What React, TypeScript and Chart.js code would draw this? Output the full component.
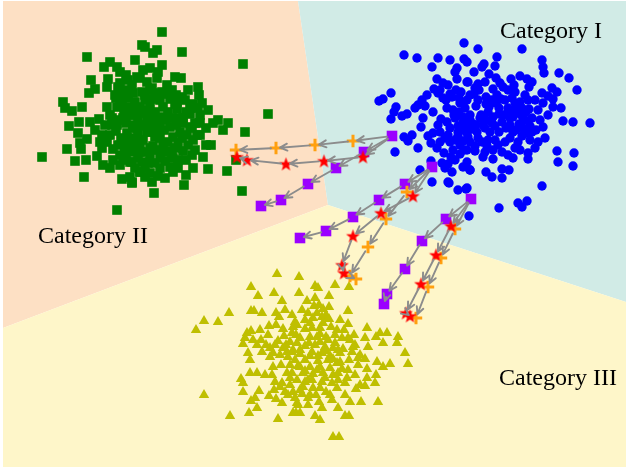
import React, { useEffect, useRef } from "react";
import { Chart, registerables } from "chart.js";
Chart.register(...registerables);

type P = [number, number];

// ---- text labels ----
const labelTexts = ["Category I", "Category II", "Category III"];
const labelX = [500, 38, 499];
const labelY = [38, 243, 385];

// ---- background regions ----
const regionPeach: P[] = [[3, 1], [298, 1], [328, 205], [3, 328]];
const regionCyan: P[] = [[298, 1], [626, 1], [626, 302], [328, 205]];
const regionYellow: P[] = [[3, 328], [328, 205], [626, 302], [626, 467], [3, 467]];
const regionColors = ["#fde0c4", "#d1ebe6", "#fef6c9"];

// ---- clusters ----
const greenPts: P[] = [
  [42,157],[87,57],[110,62],[104,67],[117,67],[120,72],[126,75],[91,80],[108,79],[107,87],[118,87],[95,89],[89,93],[142,45],[127,90],[116,98],[63,102],[65,108],[72,111],[82,107],[107,107],[117,107],[127,107],[79,122],[69,126],[90,122],[99,119],[110,115],[123,118],[78,133],[95,130],[102,135],[110,135],[87,139],[80,143],[67,149],[102,148],[113,149],[125,147],[81,149],[97,156],[75,161],[86,160],[103,165],[110,168],[123,157],[130,162],[84,177],[122,179],[130,177],[132,183],[117,210],[140,172],[140,78],[140,108],[133,128],[135,138],[127,133],[112,125],[117,125],[107,142],[130,150],[140,152],
  [162,32],[145,47],[157,50],[153,53],[182,52],[243,64],[162,65],[150,68],[143,70],[158,72],[137,77],[175,77],[181,78],[157,78],[147,82],[132,85],[152,88],[167,85],[172,90],[198,87],[199,95],[145,95],[155,93],[167,94],[182,97],[177,102],[193,104],[202,103],[208,110],[198,108],[138,107],[150,105],[163,107],[177,109],[135,115],[145,113],[155,112],[162,117],[172,118],[190,114],[200,115],[218,120],[228,123],[213,123],[195,123],[183,123],[133,125],[143,125],[153,125],[170,127],[206,128],[223,130],[192,127],[180,132],[187,135],[197,135],[245,132],[138,135],[150,132],[160,138],[173,137],[143,140],[168,142],[178,143],[133,145],[153,146],[206,145],[211,145],[183,151],[195,150],[167,151],[143,152],[150,155],[172,155],[203,157],[132,162],[142,162],[155,163],[165,161],[170,167],[193,168],[208,169],[227,171],[140,172],[150,173],[158,176],[165,178],[145,177],[173,172],[132,182],[184,185],[154,193],[242,191],[236,160],[268,114],
  [120,100],[128,98],[135,102],[145,100],[152,99],[160,100],[170,99],[124,110],[131,109],[140,112],[148,110],[158,118],[166,120],[178,118],[186,112],[118,120],[126,123],[138,120],[147,118],[157,130],[164,130],[176,125],[121,138],[127,141],[147,132],[155,137],[163,145],[175,148],[188,145],[120,155],[126,160],[138,158],[148,163],[160,158],[178,160],[186,160],[116,131],[112,118],[193,140],[200,123],
  [115,95],[123,92],[133,93],[142,92],[150,90],[162,92],[176,95],[185,100],[190,108],[122,104],[130,115],[137,128],[145,126],[152,118],[160,124],[168,112],[175,104],[183,118],[190,128],[200,135],[118,145],[125,152],[133,152],[140,145],[150,148],[158,150],[165,152],[173,158],[182,138],[192,155],[113,160],[120,165],[135,168],[145,168],[152,182],[160,168],[178,168],[186,175],[105,125],[100,142],[188,90],[128,80],[135,60],[120,83]
];

const bluePts: P[] = [
  [464,43],[404,55],[417,58],[438,58],[450,60],[464,59],[432,67],[457,68],[455,72],[457,79],[437,79],[443,83],[448,85],[467,82],[434,89],[456,90],[391,93],[383,99],[379,101],[427,95],[438,93],[443,98],[459,98],[467,100],[422,100],[418,105],[425,106],[415,108],[396,107],[394,112],[402,116],[407,114],[433,112],[447,108],[453,110],[459,112],[391,119],[423,118],[441,119],[447,122],[454,115],[463,117],[421,127],[438,125],[450,128],[458,126],[467,122],[412,135],[404,137],[408,141],[428,136],[433,133],[440,132],[445,138],[431,143],[440,142],[450,142],[458,136],[463,141],[418,148],[395,152],[453,150],[460,154],[451,157],[467,150],[442,163],[448,164],[445,168],[420,170],[431,161],[452,172],[463,167],[470,170],[432,182],[448,182],[458,190],[467,188],
  [478,49],[522,49],[467,62],[484,64],[482,67],[497,57],[495,66],[542,60],[543,67],[544,73],[559,73],[569,78],[577,90],[474,72],[489,74],[496,78],[511,79],[520,76],[527,79],[532,82],[529,87],[468,82],[478,84],[479,90],[493,89],[503,87],[514,85],[508,90],[552,88],[557,92],[542,93],[474,94],[486,97],[497,95],[501,99],[512,98],[520,102],[528,100],[543,103],[553,99],[561,108],[553,107],[529,109],[548,115],[465,108],[476,106],[489,107],[499,108],[508,108],[515,109],[522,108],[470,115],[481,115],[493,117],[503,115],[513,117],[522,116],[532,118],[563,121],[573,122],[543,127],[530,126],[463,122],[473,124],[483,125],[492,123],[502,122],[510,125],[519,124],[467,133],[477,132],[490,132],[499,132],[513,132],[527,133],[470,142],[482,142],[495,140],[505,142],[518,142],[530,140],[538,142],[535,148],[464,150],[475,151],[493,150],[502,152],[513,158],[528,153],[528,159],[557,151],[574,153],[483,157],[493,159],[467,162],[470,170],[486,172],[492,177],[502,178],[502,169],[509,170],[558,162],[573,166],[542,186],[466,189],[518,203],[522,207],[527,201],[499,208],[590,123],[469,216],[449,183],
  [470,95],[478,100],[486,104],[496,103],[505,100],[515,103],[460,103],[455,118],[470,120],[480,118],[488,112],[508,112],[518,113],[526,112],[462,130],[472,129],[485,128],[495,126],[506,128],[516,130],[523,128],[455,140],[468,137],[478,138],[488,140],[510,138],[522,136],[532,132],[460,145],[487,146],[498,145],[515,148],[446,100],[450,94],
  [440,90],[452,97],[461,92],[475,88],[485,82],[500,83],[515,92],[525,95],[535,100],[538,110],[540,120],[536,130],[545,138],[548,96],[492,100],[499,114],[486,120],[476,125],[465,125],[458,132],[448,135],[437,148],[444,153],[455,160],[475,146],[485,152],[508,155],[520,150],[525,120],[510,118]
];

const olivePts: P[] = [
  [277,274],[251,287],[258,296],[274,293],[282,301],[229,313],[204,321],[218,322],[196,330],[251,311],[254,311],[262,313],[276,313],[279,317],[269,326],[276,325],[283,329],[293,327],[247,333],[251,331],[245,338],[243,344],[253,340],[261,340],[266,345],[257,345],[278,341],[275,345],[290,342],[283,348],[248,353],[250,360],[270,357],[273,353],[287,352],[293,350],[281,365],[273,367],[290,365],[250,373],[257,373],[265,375],[272,375],[287,373],[241,379],[243,383],[275,382],[280,387],[290,385],[243,392],[259,391],[274,390],[285,392],[293,392],[204,395],[269,396],[276,399],[282,403],[251,401],[255,398],[257,408],[249,413],[230,416],[278,419],[296,413],[297,403],
  [299,277],[315,286],[318,288],[335,285],[349,287],[299,293],[307,301],[315,298],[329,296],[319,305],[329,307],[323,309],[348,311],[308,313],[317,313],[313,318],[322,317],[329,319],[295,322],[297,325],[323,323],[348,324],[367,328],[305,329],[320,328],[331,327],[337,330],[380,333],[387,333],[376,337],[398,337],[292,333],[300,338],[310,337],[317,337],[326,337],[342,338],[348,338],[354,335],[365,338],[383,343],[397,343],[297,343],[305,346],[315,345],[325,347],[333,348],[343,349],[353,347],[368,347],[292,352],[300,354],[312,352],[322,353],[330,356],[340,353],[352,352],[405,353],[365,359],[295,360],[305,360],[318,361],[328,360],[337,363],[349,360],[358,358],[377,362],[383,367],[390,364],[408,364],[300,367],[310,367],[320,367],[330,368],[342,369],[367,369],[292,373],[303,373],[313,374],[323,373],[333,375],[347,378],[376,375],[297,380],[308,380],[322,382],[332,383],[345,383],[360,385],[365,386],[375,383],[303,387],[313,388],[356,389],[302,394],[310,395],[345,395],[298,405],[308,405],[319,402],[350,402],[361,402],[378,402],[338,408],[293,413],[300,413],[315,416],[320,420],[345,416],[349,416],[333,437],[339,437],
  [305,320],[312,328],[320,334],[328,340],[335,343],[300,350],[310,356],[318,356],[326,351],[333,359],[340,362],[298,366],[305,371],[317,370],[325,378],[338,373],[288,357],[284,336],[340,320],[314,306],[300,390],[316,395],[326,392],[337,388],[295,398],
  [285,310],[292,315],[302,310],[310,323],[326,315],[335,335],[344,330],[355,345],[360,355],[348,370],[355,375],[338,380],[330,395],[320,388],[312,380],[305,382],[290,378],[282,383],[280,355],[270,348],[262,352],[260,330],[268,335],[286,345],[296,335],[309,343],[320,342],[338,350],[350,340],[358,365],[367,378],[332,400],[322,408],[308,398],[288,395]
];

// ---- trajectories (first point of each track is the purple start) ----
const trackAPurple: P[] = [[392,136],[364,152],[336,168],[308,184],[281,200],[261,206]];
const trackAOrange: P[] = [[392,136],[353,141],[315,145],[276,148],[236,150]];
const trackARed: P[] = [[392,136],[363,157],[324,161],[286,164],[247,160],[237,157]];
const trackBPurple: P[] = [[432,167],[405,184],[379,200],[353,217],[326,231],[300,238]];
const trackBOrange: P[] = [[432,167],[407,192],[386,219],[368,247],[350,276],[356,279]];
const trackBRed: P[] = [[432,167],[413,196],[381,213],[353,236],[342,265],[344,273]];
const trackCPurple: P[] = [[471,199],[446,219],[422,241],[405,269],[387,294],[384,304]];
const trackCOrange: P[] = [[471,199],[455,229],[441,258],[428,287],[416,318]];
const trackCRed: P[] = [[471,199],[451,226],[436,255],[421,284],[406,313],[410,316]];

const purpleTracks = [trackAPurple, trackBPurple, trackCPurple];
const orangeTracks = [trackAOrange, trackBOrange, trackCOrange];
const redTracks = [trackARed, trackBRed, trackCRed];
const allTracks = [...purpleTracks, ...orangeTracks, ...redTracks];

const toXY = (pts: P[]) => pts.map(([x, y]) => ({ x, y }));

function makeStar(color: string, outer: number, inner: number) {
  const c = document.createElement("canvas");
  const s = Math.ceil(outer * 2 + 2);
  c.width = s;
  c.height = s;
  const ctx = c.getContext("2d")!;
  ctx.beginPath();
  for (let i = 0; i < 10; i++) {
    const r = i % 2 === 0 ? outer : inner;
    const a = -Math.PI / 2 + (i * Math.PI) / 5;
    ctx.lineTo(s / 2 + r * Math.cos(a), s / 2 + 0.6 + r * Math.sin(a));
  }
  ctx.closePath();
  ctx.fillStyle = color;
  ctx.fill();
  return c;
}

export default function App() {
  const ref = useRef<HTMLCanvasElement | null>(null);
  useEffect(() => {
    document.body.style.margin = "0";
    const star = makeStar("#ff0000", 7.3, 3.0);

    const bgPlugin = {
      id: "bgRegions",
      beforeDatasetsDraw(chart: any) {
        const { ctx, scales } = chart;
        const sx = scales.x, sy = scales.y;
        [regionPeach, regionCyan, regionYellow].forEach((poly, i) => {
          ctx.save();
          ctx.beginPath();
          poly.forEach(([x, y], j) => {
            const px = sx.getPixelForValue(x), py = sy.getPixelForValue(y);
            if (j === 0) ctx.moveTo(px, py); else ctx.lineTo(px, py);
          });
          ctx.closePath();
          ctx.fillStyle = regionColors[i];
          ctx.fill();
          ctx.restore();
        });
        ctx.save();
        ctx.fillStyle = "#000";
        ctx.font = "24px 'Liberation Serif', 'Times New Roman', serif";
        ctx.textAlign = "left";
        ctx.textBaseline = "alphabetic";
        labelTexts.forEach((t, i) => {
          ctx.fillText(t, sx.getPixelForValue(labelX[i]), sy.getPixelForValue(labelY[i]));
        });
        ctx.restore();
      },
    };

    const arrowPlugin = {
      id: "arrows",
      afterDatasetsDraw(chart: any) {
        const { ctx, scales } = chart;
        const sx = scales.x, sy = scales.y;
        ctx.save();
        ctx.strokeStyle = "#8c8c8c";
        ctx.lineWidth = 1.9;
        ctx.lineCap = "round";
        ctx.lineJoin = "round";
        allTracks.forEach((tr) => {
          for (let i = 1; i < tr.length; i++) {
            const x0 = sx.getPixelForValue(tr[i - 1][0]);
            const y0 = sy.getPixelForValue(tr[i - 1][1]);
            const x1 = sx.getPixelForValue(tr[i][0]);
            const y1 = sy.getPixelForValue(tr[i][1]);
            const dx = x1 - x0, dy = y1 - y0;
            const len = Math.hypot(dx, dy);
            if (len < 1) continue;
            const ux = dx / len, uy = dy / len;
            const sA = Math.min(5, len * 0.3), sB = Math.min(4, len * 0.3);
            const ax = x0 + ux * sA, ay = y0 + uy * sA;
            const bx = x1 - ux * sB, by = y1 - uy * sB;
            ctx.beginPath();
            ctx.moveTo(ax, ay);
            ctx.lineTo(bx, by);
            const hl = 8, ang = 0.45;
            const th = Math.atan2(by - ay, bx - ax);
            ctx.moveTo(bx - hl * Math.cos(th - ang), by - hl * Math.sin(th - ang));
            ctx.lineTo(bx, by);
            ctx.lineTo(bx - hl * Math.cos(th + ang), by - hl * Math.sin(th + ang));
            ctx.stroke();
          }
        });
        ctx.restore();
      },
    };

    const purpleData = purpleTracks.flatMap((t) => toXY(t));
    const orangeData = orangeTracks.flatMap((t) => toXY(t.slice(1)));
    const redData = redTracks.flatMap((t) => toXY(t.slice(1)));

    const chart = new Chart(ref.current!, {
      type: "scatter",
      data: {
        datasets: [
          { label: "red", data: redData, pointStyle: star as any, pointRadius: 8, backgroundColor: "#ff0000", borderWidth: 0 },
          { label: "orange", data: orangeData, pointStyle: "cross", pointRadius: 6.2, borderColor: "#ffa00f", backgroundColor: "#ffa00f", borderWidth: 3 },
          { label: "purple", data: purpleData, pointStyle: "rect", pointRadius: 7.5, backgroundColor: "#9b00ff", borderWidth: 0 },
          { label: "green", data: toXY(greenPts), pointStyle: "rect", pointRadius: 6.8, backgroundColor: "#008000", borderWidth: 0 },
          { label: "blue", data: toXY(bluePts), pointStyle: "circle", pointRadius: 4.7, backgroundColor: "#0000ff", borderWidth: 0 },
          { label: "olive", data: toXY(olivePts), pointStyle: "triangle", pointRadius: 6, backgroundColor: "#bfbf00", borderWidth: 0 },
        ],
      },
      options: {
        animation: false,
        responsive: true,
        maintainAspectRatio: false,
        layout: { padding: 0, autoPadding: false },
        plugins: { legend: { display: false }, tooltip: { enabled: false } },
        scales: {
          x: { type: "linear", min: 0, max: 626, display: false },
          y: { type: "linear", min: 0, max: 470, reverse: true, display: false },
        },
        elements: { point: { hoverRadius: 0 } },
      },
      plugins: [bgPlugin, arrowPlugin],
    });
    return () => chart.destroy();
  }, []);

  return (
    <div style={{ position: "absolute", left: 0, top: 0, width: 626, height: 470, background: "#fff" }}>
      <canvas ref={ref} />
    </div>
  );
}
